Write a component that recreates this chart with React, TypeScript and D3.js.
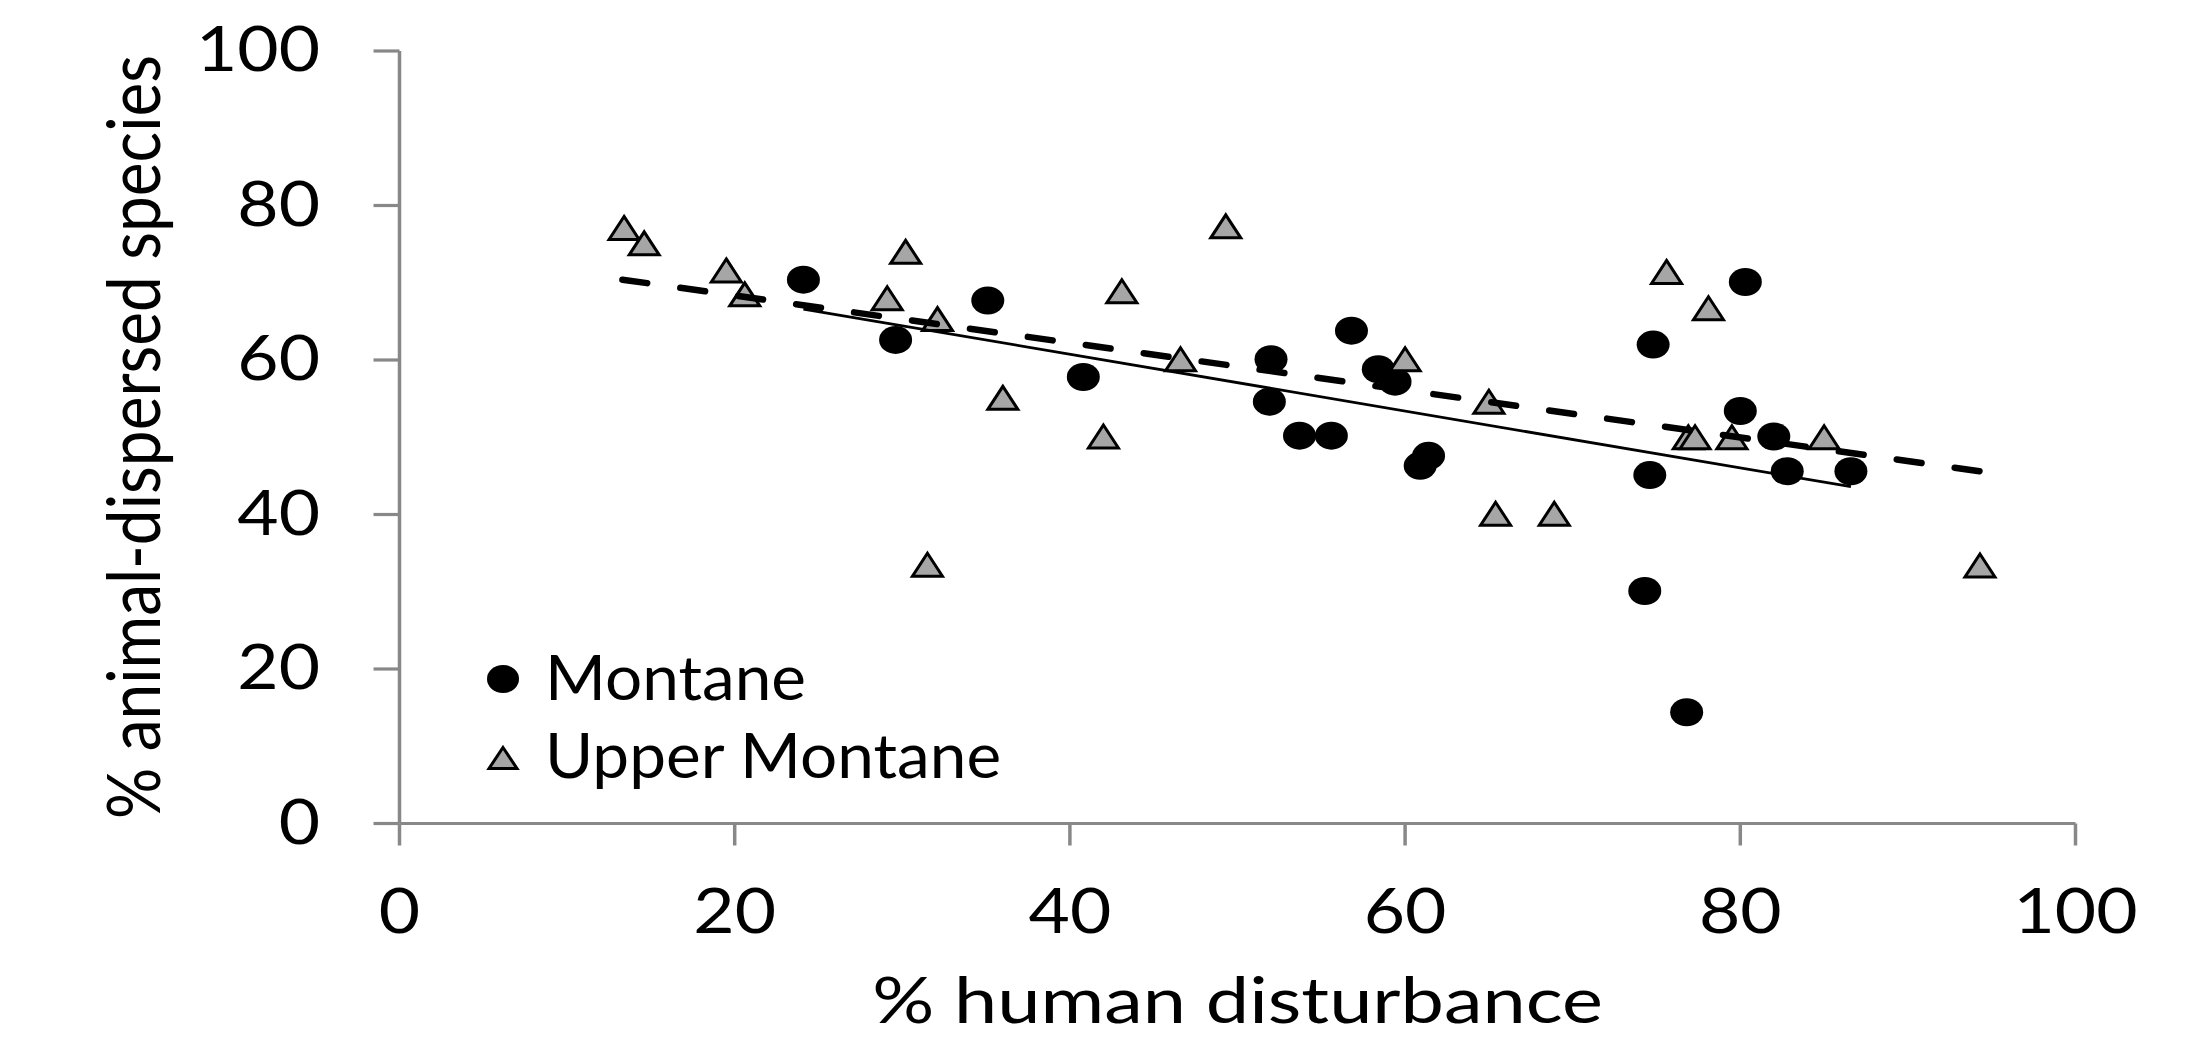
import React from "react";
import * as d3 from "d3";

const montaneX = [24.1, 29.6, 35.1, 40.8, 52.0, 51.9, 53.7, 55.6, 56.8, 58.4, 59.4, 61.4, 60.9, 74.3, 74.6, 74.8, 76.8, 80.3, 80.0, 82.0, 82.8, 86.6];
const montaneY = [70.4, 62.6, 67.7, 57.8, 60.1, 54.6, 50.2, 50.2, 63.8, 58.8, 57.2, 47.6, 46.3, 30.1, 45.1, 62.0, 14.4, 70.1, 53.4, 50.1, 45.6, 45.6];

const upperX = [13.4, 14.6, 19.5, 20.6, 29.1, 30.2, 31.5, 32.1, 36.0, 42.0, 43.1, 46.6, 49.3, 60.0, 65.0, 65.4, 68.9, 75.6, 76.9, 77.3, 78.1, 79.5, 85.0, 94.3];
const upperY = [77.1, 75.1, 71.6, 68.5, 68.0, 74.0, 33.5, 65.3, 55.1, 50.1, 68.9, 60.1, 77.3, 60.1, 54.6, 40.1, 40.1, 71.4, 50.0, 50.0, 66.7, 50.0, 50.0, 33.4];

const montaneTrendX = [24.1, 86.6];
const montaneTrendY = [66.6, 43.6];
const upperTrendX = [13.3, 94.3];
const upperTrendY = [70.4, 45.6];

const xTicks = [0, 20, 40, 60, 80, 100];
const yTicks = [0, 20, 40, 60, 80, 100];
const xTitle = "% human disturbance";
const yTitle = "% animal-dispersed species";
const legendLabels = ["Montane", "Upper Montane"];

const W = 2196;
const H = 1056;
const FONT = "Lato, 'Open Sans', sans-serif";

export default function App() {
  const x = d3.scaleLinear().domain([0, 100]).range([399.5, 2075.5]);
  const y = d3.scaleLinear().domain([0, 100]).range([823.5, 51]);
  const axisColor = "#888888";

  const line = d3
    .line<[number, number]>()
    .x((d) => x(d[0]))
    .y((d) => y(d[1]));

  const montaneTrend = montaneTrendX.map((v, i) => [v, montaneTrendY[i]] as [number, number]);
  const upperTrend = upperTrendX.map((v, i) => [v, upperTrendY[i]] as [number, number]);

  const triPath = (cx: number, cy: number, w: number, h: number) =>
    `M${cx},${cy - h / 2}L${cx + w / 2},${cy + h / 2}L${cx - w / 2},${cy + h / 2}Z`;

  const txt = (
    key: string,
    tx: number,
    ty: number,
    s: string,
    anchor: string,
    fs: number,
    sx: number,
    extra = ""
  ) => (
    <text
      key={key}
      transform={`translate(${tx},${ty}) scale(${sx},1)${extra}`}
      textAnchor={anchor}
      fontFamily={FONT}
      fontSize={fs}
      fill="#000"
    >
      {s}
    </text>
  );

  return (
    <svg
      width={W}
      height={H}
      style={{ position: "absolute", left: 0, top: 0, background: "#fff" }}
    >
      <rect x={0} y={0} width={W} height={H} fill="#fff" />
      {/* axes */}
      <line x1={x(0)} x2={x(0)} y1={y(100)} y2={y(0)} stroke={axisColor} strokeWidth={3.5} />
      <line x1={x(0)} x2={x(100)} y1={y(0)} y2={y(0)} stroke={axisColor} strokeWidth={3.2} />
      {yTicks.map((t) => (
        <line key={"yt" + t} x1={x(0) - 26} x2={x(0)} y1={y(t)} y2={y(t)} stroke={axisColor} strokeWidth={3.2} />
      ))}
      {xTicks.map((t) => (
        <line key={"xt" + t} x1={x(t)} x2={x(t)} y1={y(0)} y2={y(0) + 22} stroke={axisColor} strokeWidth={3.5} />
      ))}
      {yTicks.map((t) => txt("yl" + t, 320, y(t) + 20, String(t), "end", 62, 1.15))}
      {xTicks.map((t) => txt("xl" + t, x(t), 933, String(t), "middle", 62, 1.15))}
      {txt("xtitle", 1237.5, 1023, xTitle, "middle", 63, 1.23)}
      {txt("ytitle", 160, 437, yTitle, "middle", 64, 1.15, " rotate(-90)")}

      {/* markers */}
      {montaneX.map((v, i) => (
        <ellipse key={"m" + i} cx={x(v)} cy={y(montaneY[i])} rx={16.5} ry={14} fill="#000" />
      ))}
      {upperX.map((v, i) => (
        <path
          key={"u" + i}
          d={triPath(x(v), y(upperY[i]), 30, 23)}
          fill="#a6a6a6"
          stroke="#000"
          strokeWidth={3}
          strokeLinejoin="miter"
        />
      ))}

      {/* trend lines */}
      <path d={line(montaneTrend) || ""} fill="none" stroke="#000" strokeWidth={2.8} />
      <path
        d={line(upperTrend) || ""}
        fill="none"
        stroke="#000"
        strokeWidth={6.5}
        strokeDasharray="25 33.5"
        strokeLinecap="round"
      />

      {/* legend */}
      <ellipse cx={503} cy={679} rx={16} ry={14} fill="#000" />
      {txt("lg0", 545, 700, legendLabels[0], "start", 62, 1.06)}
      <path d={triPath(503, 758, 28, 21)} fill="#a6a6a6" stroke="#000" strokeWidth={3} />
      {txt("lg1", 545, 778, legendLabels[1], "start", 62, 1.06)}
    </svg>
  );
}
